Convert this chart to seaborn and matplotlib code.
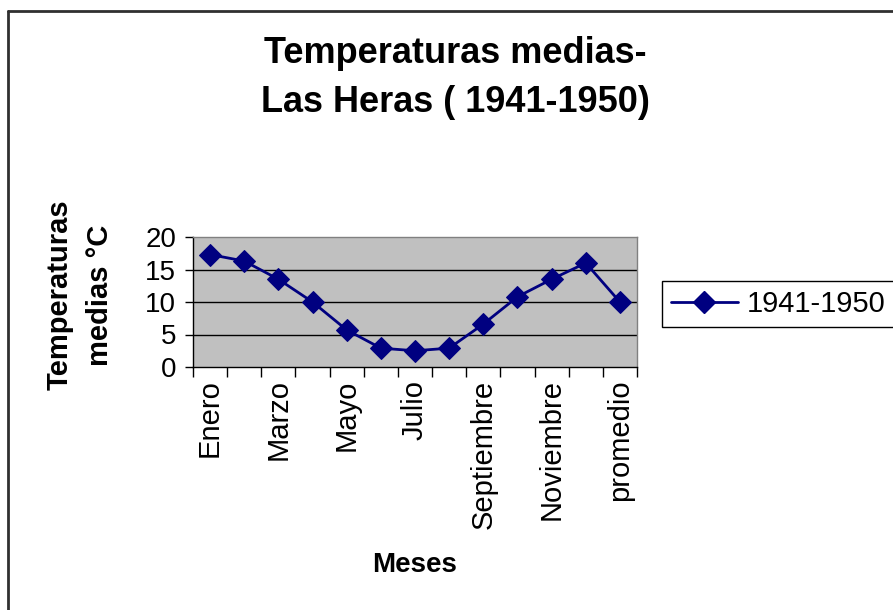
import seaborn as sns
import pandas as pd
import numpy as np
import matplotlib.pyplot as plt
from matplotlib.lines import Line2D

# data
meses = ["Enero", "Febrero", "Marzo", "Abril", "Mayo", "Junio", "Julio",
         "Agosto", "Septiembre", "Octubre", "Noviembre", "Diciembre", "promedio"]
temps = [17.3, 16.3, 13.5, 10.0, 5.7, 2.9, 2.5, 2.9, 6.6, 10.8, 13.5, 16.0, 10.0]
serie = "1941-1950"
yticks = [0, 5, 10, 15, 20]

sns.set_style("white")
plt.rcParams['font.family'] = ['Liberation Sans', 'DejaVu Sans']
plt.rcParams['text.color'] = 'black'
plt.rcParams['xtick.color'] = 'black'
plt.rcParams['ytick.color'] = 'black'

df = pd.DataFrame({"pos": np.arange(len(meses)), "temp": temps})

fig = plt.figure(figsize=(8.93, 6.10), dpi=100)
ax = fig.add_axes([193/893, (610-367)/610, 444/893, 130/610])
ax.set_facecolor("#C0C0C0")

for v in yticks[1:-1]:
    ax.axhline(v, color="black", lw=1, zorder=1)

sns.lineplot(data=df, x="pos", y="temp", ax=ax, color="#000080", lw=2,
             marker="D", markersize=11, markeredgecolor="#000080",
             zorder=3, legend=False)

ax.set_xlim(-0.5, len(meses) - 0.5)
ax.set_ylim(0, 20)
ax.set_yticks(yticks)
ax.tick_params(axis="y", labelsize=20, length=6, width=1, color="black",
               labelcolor="black", direction="out", left=True, pad=6)

# category ticks between categories, labels every other one
ax.set_xticks(np.arange(-0.5, len(meses), 1.0))
ax.set_xticklabels([])
ax.tick_params(axis="x", which="major", length=7, width=1, color="black",
               direction="out", bottom=True)
ax.set_xticks(np.arange(0, len(meses), 2), minor=True)
ax.set_xticklabels(meses[::2], minor=True, rotation=90, fontsize=21)
ax.tick_params(axis="x", which="minor", length=0, pad=9, labelcolor="black")

for s in ["top", "right"]:
    ax.spines[s].set_color("#808080")
for s in ["left", "bottom"]:
    ax.spines[s].set_color("black")
for s in ax.spines.values():
    s.set_linewidth(1)

ax.set_xlabel("")
ax.set_ylabel("")
fig.text(415/893, (610-565)/610, "Meses", fontsize=20, fontweight="bold",
         ha="center", va="center", color="black")
fig.text(80/893, (610-295)/610, "Temperaturas\nmedias °C", fontsize=21,
         fontweight="bold", rotation=90, ha="center", va="center",
         multialignment="center", linespacing=1.55, color="black")
fig.text(455/893, (610-78)/610, "Temperaturas medias-\nLas Heras ( 1941-1950)",
         fontsize=26, fontweight="bold", ha="center", va="center",
         linespacing=1.55, color="black")

handle = Line2D([], [], color="#000080", lw=2, marker="D", markersize=11)
leg = fig.legend([handle], [serie], loc="center left",
                 bbox_to_anchor=(662/893, (610-304)/610), fontsize=21,
                 frameon=True, fancybox=False, framealpha=1,
                 edgecolor="black", borderpad=0.3, handlelength=2.3,
                 handletextpad=0.3, borderaxespad=0)
leg.get_frame().set_linewidth(1)
for t in leg.get_texts():
    t.set_color("black")

# outer chart border
fig.add_artist(Line2D([8/893, 8/893], [0, (610-11)/610], color="#303030",
                      lw=2, transform=fig.transFigure))
fig.add_artist(Line2D([8/893, 1], [(610-11)/610, (610-11)/610], color="#303030",
                      lw=2, transform=fig.transFigure))

plt.savefig("out.png", dpi=100)
